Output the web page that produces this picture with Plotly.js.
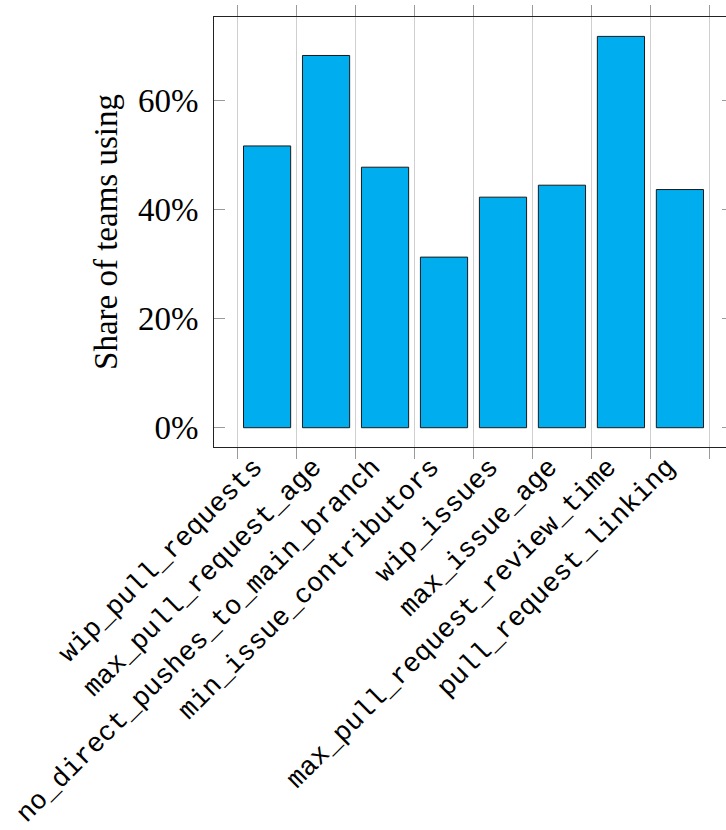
<!DOCTYPE html>
<html>
<head>
<meta charset="utf-8">
<script src="https://cdn.plot.ly/plotly-3.0.1.min.js"></script>
<style>
  html, body { margin: 0; padding: 0; background: #fff; overflow: hidden; }
  #chart { width: 745px; height: 830px; }
</style>
</head>
<body>
<div id="chart"></div>
<script>
// Rules tracked per team and the share of teams that enable each one (percent)
const ruleNames = [
  'wip_pull_requests',
  'max_pull_request_age',
  'no_direct_pushes_to_main_branch',
  'min_issue_contributors',
  'wip_issues',
  'max_issue_age',
  'max_pull_request_review_time',
  'pull_request_linking'
];
const shareUsing = [51.7, 68.3, 47.8, 31.3, 42.3, 44.5, 71.8, 43.7];
const yTickValues = [0, 20, 40, 60];
const yTickLabels = yTickValues.map(v => v + '%');

const serif = '"Liberation Serif", "DejaVu Serif", serif';
const mono = '"Liberation Mono", "DejaVu Sans Mono", monospace';

const trace = {
  type: 'bar',
  x: ruleNames,
  y: shareUsing,
  width: 0.8,
  marker: {
    color: '#00AEEF',
    line: { color: '#1a1a1a', width: 1 }
  },
  hoverinfo: 'x+y'
};

const layout = {
  width: 745,
  height: 830,
  margin: { l: 214, r: 12, t: 17, b: 383 },
  paper_bgcolor: '#ffffff',
  plot_bgcolor: '#ffffff',
  showlegend: false,
  xaxis: {
    type: 'category',
    range: [-0.9, 7.9],
    tickson: 'boundaries',
    showgrid: true,
    gridcolor: '#cfcfcf',
    gridwidth: 1,
    ticks: 'outside',
    ticklen: 11,
    tickwidth: 1,
    tickcolor: '#9a9a9a',
    showline: true,
    linecolor: '#222222',
    linewidth: 1,
    mirror: 'ticks',
    tickangle: -45,
    ticklabelstandoff: -8,
    ticklabelshift: -13,
    tickfont: { family: mono, size: 27, color: '#000' },
    automargin: false,
    zeroline: false
  },
  yaxis: {
    range: [-3.54, 75.36],
    tickvals: yTickValues,
    ticktext: yTickLabels,
    ticks: 'inside',
    ticklen: 11,
    tickwidth: 1,
    tickcolor: '#9a9a9a',
    showline: true,
    linecolor: '#222222',
    linewidth: 1,
    mirror: 'ticks',
    showgrid: false,
    zeroline: false,
    ticklabelstandoff: 8,
    tickfont: { family: serif, size: 33, color: '#000' },
    title: {
      text: 'Share of teams using',
      font: { family: serif, size: 33, color: '#000' },
      standoff: 10
    },
    automargin: false
  },
  bargap: 0.2
};

Plotly.newPlot('chart', [trace], layout, { displayModeBar: false, staticPlot: true });
</script>
</body>
</html>
